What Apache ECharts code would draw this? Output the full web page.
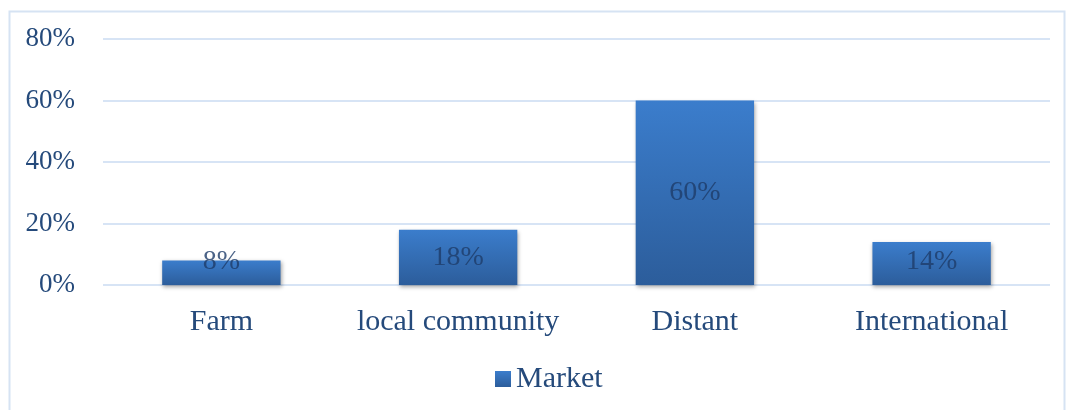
<!DOCTYPE html>
<html>
<head>
<meta charset="utf-8">
<script src="https://cdn.jsdelivr.net/npm/echarts@6/dist/echarts.min.js"></script>
<style>
  html, body { margin: 0; padding: 0; background: #fff; }
  #chart { width: 1066px; height: 410px; }
</style>
</head>
<body>
<div id="chart"></div>
<script>
// Share of produce sold per market destination (percent)
const categories = ['Farm', 'local community', 'Distant', 'International'];
const marketShare = [8, 18, 60, 14];
const seriesName = 'Market';
const yTicks = { min: 0, max: 80, interval: 20 };

const textColor = '#254a7b';
const fontFamily = '"Liberation Serif", "Times New Roman", serif';

const chart = echarts.init(document.getElementById('chart'), null, { renderer: 'canvas' });

const barGradient = new echarts.graphic.LinearGradient(0, 0, 0, 1, [
  { offset: 0, color: '#3b7dcc' },
  { offset: 1, color: '#2c5d9b' }
]);

chart.setOption({
  animation: false,
  backgroundColor: '#ffffff',
  graphic: [{
    type: 'rect',
    left: 7, top: 9,
    shape: { width: 1055, height: 420 },
    style: { fill: 'none', stroke: '#d6e3f3', lineWidth: 2 },
    silent: true
  }],
  grid: { left: 103, right: 16, top: 39, bottom: 125 },
  legend: {
    data: [seriesName],
    bottom: 11,
    left: 490,
    itemWidth: 16,
    itemHeight: 16,
    itemGap: 5,
    icon: 'rect',
    textStyle: { color: textColor, fontFamily: fontFamily, fontSize: 30 }
  },
  xAxis: {
    type: 'category',
    data: categories,
    axisLine: { show: false },
    axisTick: { show: false },
    axisLabel: {
      interval: 0,
      color: textColor, fontFamily: fontFamily, fontSize: 30, margin: 22
    }
  },
  yAxis: {
    type: 'value',
    min: yTicks.min,
    max: yTicks.max,
    interval: yTicks.interval,
    axisLine: { show: false },
    axisTick: { show: false },
    splitLine: { lineStyle: { color: '#d7e4f5', width: 2 } },
    axisLabel: {
      color: textColor, fontFamily: fontFamily, fontSize: 27, margin: 28,
      formatter: '{value}%'
    }
  },
  series: [{
    name: seriesName,
    type: 'bar',
    data: marketShare,
    barWidth: '50%',
    itemStyle: {
      color: barGradient,
      shadowColor: 'rgba(0,0,0,0.35)',
      shadowBlur: 4,
      shadowOffsetX: 1,
      shadowOffsetY: 2
    },
    label: {
      show: true,
      position: 'inside',
      formatter: '{c}%',
      color: 'rgba(30,60,105,0.8)',
      fontFamily: fontFamily,
      fontSize: 28
    },
    // keep short-bar labels lifted clear of the baseline
    labelLayout: function (p) {
      const r = p.rect;
      const bottom = r.y + r.height;
      const cy = Math.min(r.y + r.height / 2, bottom - p.labelRect.height * 0.85);
      return { x: r.x + r.width / 2, y: cy, align: 'center', verticalAlign: 'middle' };
    }
  }]
});
</script>
</body>
</html>
